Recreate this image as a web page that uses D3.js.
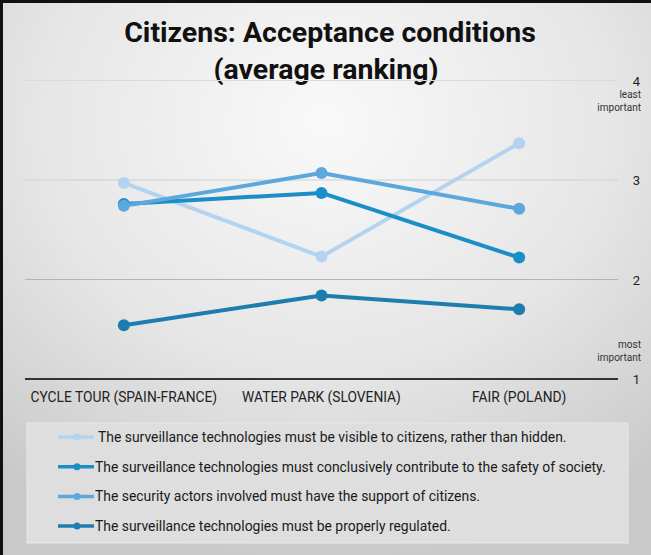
<!DOCTYPE html>
<html>
<head>
<meta charset="utf-8">
<script src="https://cdn.jsdelivr.net/npm/d3@7"></script>
<style>
  html, body { margin: 0; padding: 0; background: #fff; }
  svg { display: block; }
  text { font-family: Roboto, "Noto Sans", sans-serif; }
</style>
</head>
<body>
<svg id="chart" width="651" height="555"></svg>
<script>
// Sites where the ranking survey was run
const categories = ["CYCLE TOUR (SPAIN-FRANCE)", "WATER PARK (SLOVENIA)", "FAIR (POLAND)"];

// Average ranking per condition (1 = most important, 4 = least important)
const visibleValues    = [2.97, 2.23, 3.37];
const safetyValues     = [2.76, 2.87, 2.22];
const supportValues    = [2.74, 3.07, 2.71];
const regulatedValues  = [1.54, 1.84, 1.70];

const seriesLabels = [
  "The surveillance technologies must be visible to citizens, rather than hidden.",
  "The surveillance technologies must conclusively contribute to the safety of society.",
  "The security actors involved must have the support of citizens.",
  "The surveillance technologies must be properly regulated."
];
const seriesColors = ["#b3d3ee", "#1b8ec8", "#5ca8dd", "#1c7dae"];

const yTicks = [1, 2, 3, 4];

const series = [visibleValues, safetyValues, supportValues, regulatedValues]
  .map((values, i) => ({ label: seriesLabels[i], color: seriesColors[i], values }));

const W = 651, H = 555;
const svg = d3.select("#chart");
const defs = svg.append("defs");

// Soft grey backdrop, brightest near the top centre
const bg = defs.append("radialGradient").attr("id", "bg")
  .attr("cx", "50%").attr("cy", "22%").attr("r", "80%");
bg.append("stop").attr("offset", "0%").attr("stop-color", "#f9f9f9");
bg.append("stop").attr("offset", "55%").attr("stop-color", "#e6e6e6");
bg.append("stop").attr("offset", "100%").attr("stop-color", "#c9c9c9");
svg.append("rect").attr("width", W).attr("height", H).attr("fill", "url(#bg)");

// Frame on the top and left edges
svg.append("path").attr("d", `M1.5,${H} V1.5 H${W}`)
  .attr("fill", "none").attr("stroke", "#111").attr("stroke-width", 3);

// Title
const title = svg.append("text").attr("text-anchor", "middle")
  .attr("font-weight", 700).attr("font-size", 28.5).attr("fill", "#111");
title.append("tspan").attr("x", 330).attr("y", 42).text("Citizens: Acceptance conditions");
title.append("tspan").attr("x", 326).attr("y", 79).text("(average ranking)");

// Scales
const x = d3.scaleBand().domain(categories).range([25, 618]);
const y = d3.scaleLinear().domain([1, 4]).range([379, 80.5]);
const cx = d => x(d) + x.bandwidth() / 2;

// Gridlines
svg.append("g").selectAll("line").data(yTicks.filter(t => t > 1)).join("line")
  .attr("x1", 25).attr("x2", 618)
  .attr("y1", d => y(d)).attr("y2", d => y(d))
  .attr("stroke", d => d === 4 ? "#dadada" : (d === 3 ? "#cfcfcf" : "#b4b4b4"))
  .attr("stroke-width", 1);

// Right axis with rank numbers
const yAxis = d3.axisRight(y).tickValues(yTicks).tickSize(0).tickPadding(0)
  .tickFormat(d3.format("d"));
const ya = svg.append("g").attr("transform", "translate(640,0)").call(yAxis);
ya.select(".domain").remove();
ya.selectAll("text").attr("text-anchor", "end").attr("font-size", 13)
  .attr("fill", "#222").attr("dy", "0.35em");

// Notes on the meaning of the scale ends
const note = (lines, y0) => {
  const t = svg.append("text").attr("text-anchor", "end").attr("font-size", 10).attr("fill", "#333");
  lines.forEach((s, i) => t.append("tspan").attr("x", 641).attr("y", y0 + i * 13).text(s));
};
note(["least", "important"], 98);
note(["most", "important"], 348);

// Baseline axis with site names
svg.append("line").attr("x1", 25).attr("x2", 618)
  .attr("y1", y(1)).attr("y2", y(1)).attr("stroke", "#333").attr("stroke-width", 2.2);
const xAxis = d3.axisBottom(x).tickSize(0).tickPadding(0);
const xa = svg.append("g").attr("transform", `translate(0,${y(1) + 23})`).call(xAxis);
xa.select(".domain").remove();
xa.selectAll("text").attr("font-size", 13.8).attr("fill", "#222").attr("dy", 0)
  .attr("font-family", "Roboto, sans-serif");

// Lines and markers
const line = d3.line().x((d, i) => cx(categories[i])).y(d => y(d));
const g = svg.append("g");
series.forEach(s => {
  g.append("path").attr("d", line(s.values)).attr("fill", "none")
    .attr("stroke", s.color).attr("stroke-width", 4).attr("stroke-linejoin", "round");
  g.selectAll(null).data(s.values).join("circle")
    .attr("cx", (d, i) => cx(categories[i])).attr("cy", d => y(d))
    .attr("r", 6).attr("fill", s.color);
});

// Legend
svg.append("rect").attr("x", 27).attr("y", 423).attr("width", 601).attr("height", 120)
  .attr("fill", "#dedede").attr("stroke", "#e8e8e8").attr("stroke-width", 1);
const lg = svg.append("g").selectAll("g").data(series).join("g")
  .attr("transform", (d, i) => `translate(0,${437 + i * 29.7})`);
lg.append("line").attr("x1", 58).attr("x2", 94).attr("y1", 0).attr("y2", 0)
  .attr("stroke", d => d.color).attr("stroke-width", 3.5);
lg.append("circle").attr("cx", 77).attr("cy", 0).attr("r", 3.5).attr("fill", d => d.color);
lg.append("text").attr("x", (d, i) => i === 0 ? 98 : 95).attr("y", 0).attr("dy", "0.35em")
  .attr("font-size", 13.9).attr("fill", "#1a1a1a").text(d => d.label);
</script>
</body>
</html>
